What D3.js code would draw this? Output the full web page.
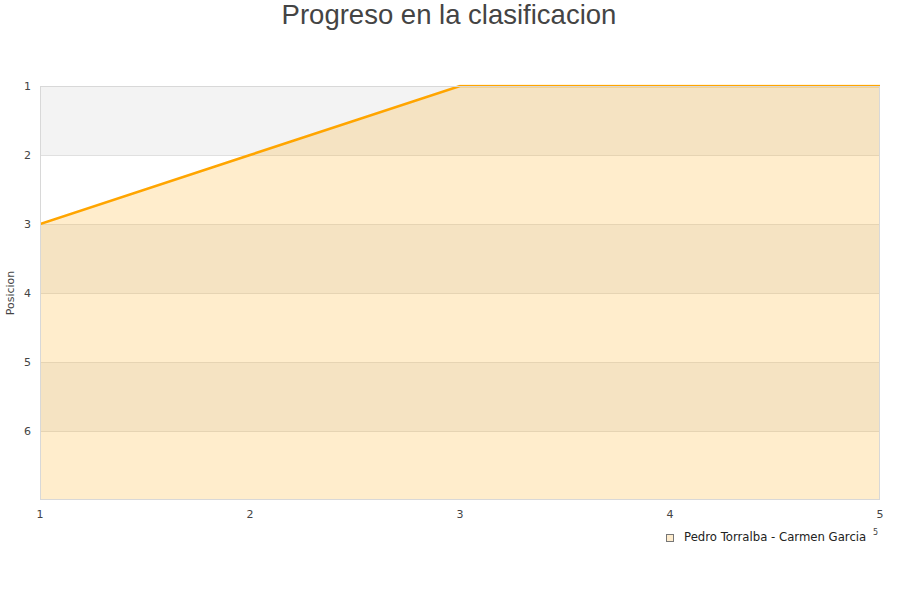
<!DOCTYPE html>
<html><head><meta charset="utf-8">
<script src="https://cdn.jsdelivr.net/npm/d3@7"></script>
<style>body{margin:0;background:#fff}svg{display:block}</style>
</head><body>
<svg id="c" width="900" height="600"></svg>
<script>
const jornadas = [1, 2, 3, 4, 5];
const posiciones = [3, 2, 1, 1, 1];
const yTicks = [1, 2, 3, 4, 5, 6];
const bands = [1, 2, 3, 4, 5, 6];
const seriesName = "Pedro Torralba - Carmen Garcia";
const title = "Progreso en la clasificacion";
const yLabel = "Posicion";

const svg = d3.select("#c");
const m = {l: 40, r: 20, t: 86, b: 100};
const W = 900, H = 600;
const x = d3.scaleLinear().domain([1, 5]).range([m.l, W - m.r]);
const y = d3.scaleLinear().domain([1, 7]).range([m.t, H - m.b]);

svg.append("text").attr("x", 449).attr("y", 24).attr("text-anchor", "middle")
  .attr("font-family", "Liberation Sans, Arial, sans-serif").attr("font-size", 27.5)
  .attr("fill", "#444").text(title);

svg.append("defs").append("clipPath").attr("id", "clip").append("rect")
  .attr("x", m.l).attr("y", m.t - 1.5).attr("width", W - m.r - m.l).attr("height", y(7) - m.t + 1.5);

const g = svg.append("g");
g.selectAll("rect.band").data(bands).join("rect")
  .attr("x", m.l).attr("width", W - m.r - m.l)
  .attr("y", d => y(d)).attr("height", d => y(d + 1) - y(d))
  .attr("fill", (d, i) => i % 2 === 0 ? "#f3f3f3" : "#ffffff");
g.selectAll("line.grid").data(yTicks.slice(1)).join("line")
  .attr("x1", m.l).attr("x2", W - m.r)
  .attr("y1", d => Math.round(y(d)) + 0.5).attr("y2", d => Math.round(y(d)) + 0.5)
  .attr("stroke", "#e0e0e0").attr("stroke-width", 1);

const data = jornadas.map((j, i) => ({j, p: posiciones[i]}));
const area = d3.area().x(d => x(d.j)).y0(y(7)).y1(d => y(d.p));
const line = d3.line().x(d => x(d.j)).y(d => y(d.p));
const pg = svg.append("g").attr("clip-path", "url(#clip)");
pg.append("path").datum(data).attr("d", area).attr("fill", "rgba(255,165,0,0.2)");
pg.append("path").datum(data).attr("d", line).attr("fill", "none")
  .attr("stroke", "#ffa500").attr("stroke-width", 2.6);

svg.append("rect").attr("x", m.l + 0.5).attr("y", m.t + 0.5)
  .attr("width", W - m.r - m.l - 1).attr("height", y(7) - m.t - 1)
  .attr("fill", "none").attr("stroke", "#d8d8d8");

svg.selectAll("text.yt").data(yTicks).join("text")
  .attr("x", 31).attr("y", d => y(d) + 4).attr("text-anchor", "end")
  .attr("font-family", "DejaVu Sans, sans-serif").attr("font-size", 11).attr("fill", "#444")
  .text(d => d);
svg.selectAll("text.xt").data(jornadas).join("text")
  .attr("x", d => x(d)).attr("y", 518).attr("text-anchor", "middle")
  .attr("font-family", "DejaVu Sans, sans-serif").attr("font-size", 11).attr("fill", "#444")
  .text(d => d);

svg.append("text").attr("transform", "translate(14,293) rotate(-90)").attr("text-anchor", "middle")
  .attr("font-family", "DejaVu Sans, sans-serif").attr("font-size", 11).attr("fill", "#444").text(yLabel);

svg.append("rect").attr("x", 666.5).attr("y", 534.5).attr("width", 7).attr("height", 7)
  .attr("fill", "#feeccd").attr("stroke", "#777");
svg.append("text").attr("x", 684).attr("y", 541)
  .attr("font-family", "DejaVu Sans, sans-serif").attr("font-size", 11.7).attr("fill", "#222").text(seriesName);
svg.append("text").attr("x", 873).attr("y", 535)
  .attr("font-family", "DejaVu Sans, sans-serif").attr("font-size", 8).attr("fill", "#444").text("5");
</script>
</body></html>
